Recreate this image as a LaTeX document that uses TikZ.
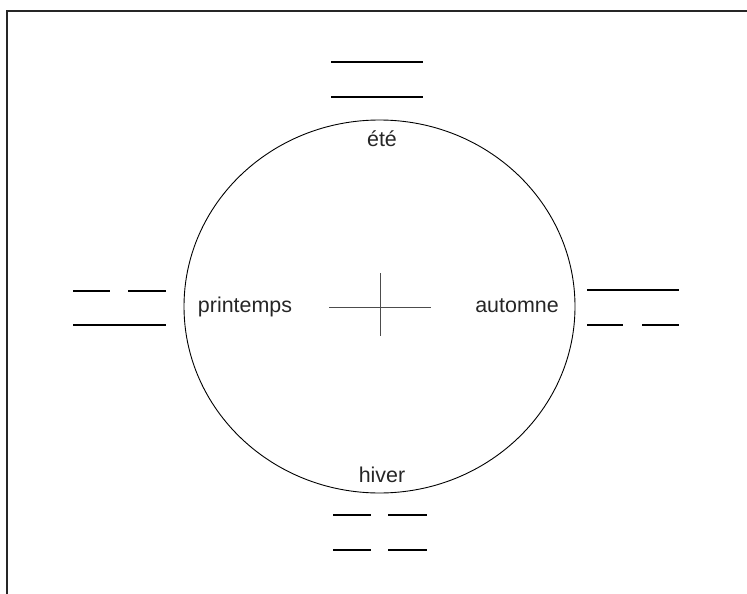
\documentclass[tikz,border=0pt]{standalone}
\usepackage{fontspec}
\setmainfont{Liberation Sans}
\begin{document}
\begin{tikzpicture}[x=1bp,y=-1bp,
  lbl/.style={inner sep=0pt,anchor=base,font=\fontsize{21.5}{24}\selectfont,text=black!85},
  bar/.style={line width=2.6bp,black},
  frame/.style={line width=2bp,black!85},
  ring/.style={line width=0.9bp,black},
  crossline/.style={line width=1.2bp,black!70}]
\useasboundingbox (0,0) rectangle (747,594);
\draw[frame] (747,11) -- (7,11) -- (7,594);
\draw[ring] (379.5,306.5) ellipse [x radius=195.5, y radius=186.5];
\draw[crossline] (329,307.5) -- (431,307.5);
\draw[crossline] (380.5,273) -- (380.5,336);
\node[lbl] (ete) at (382,147) {été};
\node[lbl] (printemps) at (245,312) {printemps};
\node[lbl] (automne) at (517,312) {automne};
\node[lbl] (hiver) at (382,482) {hiver};
% été: two solid lines
\draw[bar] (331,62) -- (423,62);
\draw[bar] (331,97) -- (423,97);
% printemps: broken over solid
\draw[bar] (73,291) -- (110,291);
\draw[bar] (128,291) -- (166,291);
\draw[bar] (73,325) -- (166,325);
% automne: solid over broken
\draw[bar] (587,290) -- (679,290);
\draw[bar] (587,325) -- (623,325);
\draw[bar] (642,325) -- (679,325);
% hiver: two broken lines
\draw[bar] (333,515) -- (371,515);
\draw[bar] (388,515) -- (427,515);
\draw[bar] (333,550) -- (371,550);
\draw[bar] (388,550) -- (427,550);
\end{tikzpicture}
\end{document}
